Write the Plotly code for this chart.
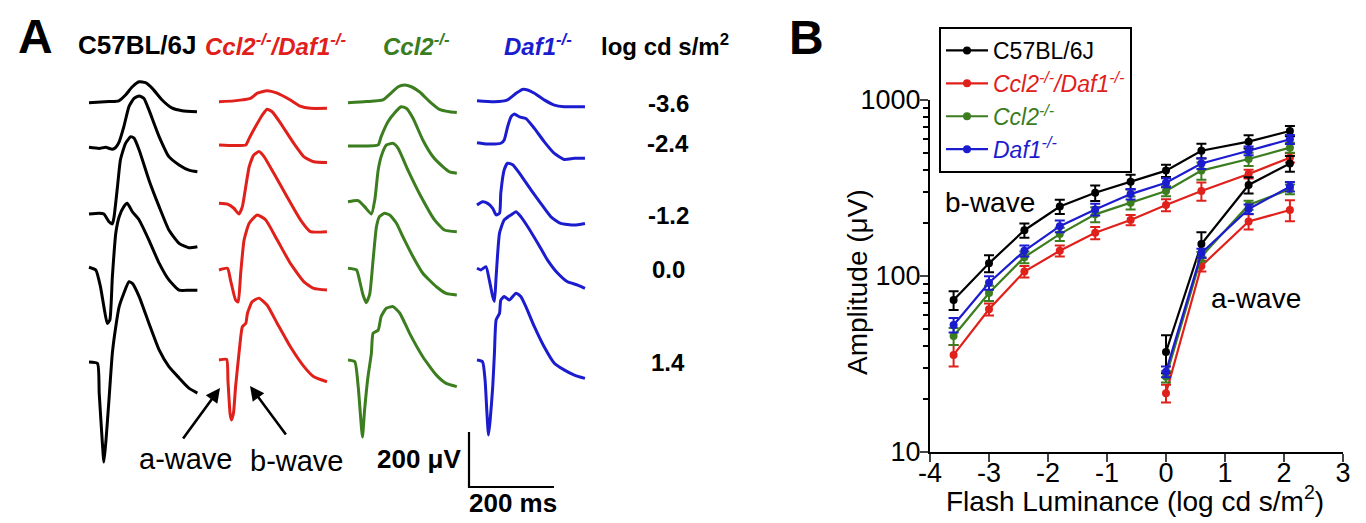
import plotly.graph_objects as go

W, H = 1366, 523
FONT = "Arial, Liberation Sans, sans-serif"
BLACK, RED, GREEN, BLUE = "#000000", "#e0201b", "#3b7d1f", "#1c1ccf"

# ---------------- Panel B data (amplitude, uV) ----------------
lum_b = [-3.6, -3.0, -2.4, -1.8, -1.2, -0.6, 0.0, 0.6, 1.4, 2.1]
lum_a = [0.0, 0.6, 1.4, 2.1]

b_c57 = [73, 118, 182, 248, 297, 343, 397, 515, 580, 667]
b_dko = [35.6, 64.7, 106, 139, 176, 208, 253, 304, 380, 470]
b_ccl2 = [45.6, 80, 128, 173, 224, 261, 304, 397, 462, 536]
b_daf1 = [52.7, 91.6, 139, 192, 239, 292, 339, 436, 515, 598]
b_c57_err = [9, 13, 17, 23, 30, 33, 32, 50, 50, 45]
b_dko_err = [5, 5, 8, 10, 14, 14, 20, 36, 22, 28]
b_ccl2_err = [5, 8, 10, 15, 22, 22, 20, 45, 40, 35]
b_daf1_err = [5, 8, 10, 15, 18, 20, 20, 30, 30, 35]

a_c57 = [37, 152, 329, 436]
a_dko = [21.6, 114, 204, 237]
a_ccl2 = [26.8, 129, 253, 311]
a_daf1 = [28.6, 135, 240, 322]
a_c57_err = [9, 25, 35, 45]
a_dko_err = [2.5, 8, 20, 32]
a_ccl2_err = [2, 8, 15, 20]
a_daf1_err = [2, 8, 15, 20]

# ---------------- Panel A data (ERG traces: time ms, amplitude uV) ----------------
flash_levels = ["-3.6", "-2.4", "-1.2", "0.0", "1.4"]

erg_c57_t = [
    [0, 47, 70, 86, 102, 118, 133, 149, 172, 196, 219, 254],
    [0, 24, 39, 55, 63, 71, 82, 94, 106, 118, 129, 141, 165, 188, 212, 235, 255],
    [0, 24, 35, 47, 55, 59, 67, 74, 86, 98, 106, 118, 141, 165, 188, 212, 235, 255],
    [0, 16, 27, 35, 43, 49, 55, 63, 71, 82, 90, 102, 118, 141, 165, 188, 212, 235, 255],
    [0, 20, 24, 31, 35, 40, 47, 55, 63, 71, 82, 94, 102, 118, 141, 165, 188, 212, 235, 255],
]
erg_c57_uv = [
    [0, 4, 7, 28, 58, 76, 73, 52, 10, -20, -29, -33],
    [0, -4, 0, -7, 0, 20, 75, 148, 178, 187, 178, 136, 39, -34, -64, -83, -89],
    [0, 3, 0, -28, -36, -10, 99, 197, 257, 281, 276, 233, 124, 27, -58, -107, -123, -119],
    [0, -10, -71, -143, -204, -192, -34, 124, 184, 221, 233, 202, 172, 99, 15, -46, -83, -83, -83],
    [0, -5, -113, -284, -364, -284, -138, 33, 128, 201, 250, 292, 286, 238, 141, 44, -17, -58, -95, -113],
]
erg_dko_t = [
    [0, 35, 74, 90, 113, 137, 168, 191, 215, 254],
    [0, 35, 63, 71, 86, 102, 113, 125, 145, 176, 200, 223, 254],
    [0, 20, 35, 47, 55, 63, 71, 82, 94, 106, 129, 160, 192, 215, 254],
    [0, 20, 27, 39, 45, 51, 59, 71, 90, 110, 137, 168, 200, 223, 254],
    [0, 18, 21, 26, 29, 34, 39, 47, 55, 63, 67, 78, 94, 113, 137, 168, 200, 223, 254],
]
erg_dko_uv = [
    [0, 3, 12, 31, 40, 31, 6, -16, -24, -24],
    [0, -2, 0, 24, 67, 109, 130, 121, 79, 6, -43, -61, -64],
    [0, -3, -18, -39, -12, 61, 133, 176, 188, 170, 109, 24, -61, -103, -103],
    [0, 6, -36, -109, -116, -12, 109, 170, 200, 182, 109, 24, -43, -67, -73],
    [0, 2, -73, -194, -218, -194, -97, 24, 121, 133, 170, 212, 225, 200, 133, 48, -24, -61, -79],
]
erg_ccl2_t = [
    [0, 43, 82, 102, 118, 133, 149, 168, 192, 215, 239, 256],
    [0, 43, 71, 78, 94, 110, 125, 137, 153, 176, 200, 223, 239, 256],
    [0, 24, 39, 55, 63, 71, 78, 90, 106, 118, 141, 172, 204, 227, 256],
    [0, 20, 27, 35, 43, 51, 59, 67, 74, 86, 98, 114, 129, 153, 176, 208, 231, 256],
    [0, 16, 24, 29, 34, 39, 47, 55, 59, 71, 78, 90, 106, 122, 145, 176, 208, 231, 256],
]
erg_ccl2_uv = [
    [0, 4, 10, 36, 58, 64, 58, 40, 4, -24, -33, -36],
    [0, 0, 4, 34, 88, 121, 143, 137, 101, 22, -39, -75, -94, -99],
    [0, 4, -18, -45, 6, 115, 164, 206, 212, 194, 115, 18, -67, -103, -109],
    [0, -6, -43, -95, -125, -95, 30, 152, 188, 200, 194, 164, 115, 42, -18, -67, -91, -97],
    [0, -6, -97, -194, -280, -182, -61, 24, 97, 109, 158, 188, 194, 170, 97, 12, -55, -85, -97],
]
erg_daf1_t = [
    [0, 41, 72, 92, 107, 119, 135, 158, 182, 205, 254],
    [0, 25, 56, 64, 72, 80, 88, 100, 115, 135, 158, 182, 205, 229, 254],
    [0, 13, 25, 37, 45, 53, 56, 64, 72, 84, 103, 127, 150, 174, 197, 229, 254],
    [0, 9, 21, 29, 37, 41, 45, 53, 64, 80, 92, 103, 119, 143, 166, 190, 213, 237, 254],
    [0, 13, 19, 23, 27, 31, 37, 41, 45, 53, 56, 64, 76, 92, 103, 115, 135, 158, 182, 205, 229, 254],
]
erg_daf1_uv = [
    [0, -4, 3, 27, 41, 39, 27, 3, -16, -22, -22],
    [0, -5, -2, 10, 58, 94, 104, 94, 88, 52, 4, -39, -61, -57, -57],
    [0, 12, 6, -12, -36, -30, 43, 128, 152, 146, 109, 55, 6, -43, -67, -73, -67],
    [0, -6, 6, -43, -103, -120, -30, 128, 176, 194, 206, 188, 152, 91, 30, -18, -49, -61, -73],
    [0, -6, -73, -182, -273, -218, -97, 24, 146, 170, 218, 231, 218, 243, 231, 194, 121, 48, -12, -36, -55, -67],
]
scale_ms = 200
scale_uv = 200

# ---------------- layout constants (panel A placement, in pixels) ----------------
MS_PER_PX = 200 / 85
UV_PER_PX = 200 / 55
PANEL_A_W = 720
col_x_px = [89, 219, 348, 477]
row_base_px = [
    [102.7, 147.3, 214, 267.3, 362],
    [101.7, 145, 203.3, 270, 360],
    [102.7, 146, 201.7, 268.3, 360],
    [100.7, 142.7, 205, 268.3, 360],
]
scale_corner_px = (469, 487)


def px2ms(px):
    return px * MS_PER_PX


def py2uv(py):
    return (H - py) * UV_PER_PX


fig = go.Figure()

# Panel A traces
strains = [
    (erg_c57_t, erg_c57_uv, BLACK),
    (erg_dko_t, erg_dko_uv, RED),
    (erg_ccl2_t, erg_ccl2_uv, GREEN),
    (erg_daf1_t, erg_daf1_uv, BLUE),
]
for ci, (ts, vs, col) in enumerate(strains):
    x0 = px2ms(col_x_px[ci])
    for ri in range(len(ts)):
        y0 = py2uv(row_base_px[ci][ri])
        fig.add_trace(go.Scatter(
            x=[x0 + t for t in ts[ri]], y=[y0 + v for v in vs[ri]],
            mode="lines", line=dict(color=col, width=3, shape="spline", smoothing=0.5),
            xaxis="x2", yaxis="y2", showlegend=False, hoverinfo="skip"))

cx, cy = px2ms(scale_corner_px[0]), py2uv(scale_corner_px[1])
fig.add_trace(go.Scatter(
    x=[cx, cx, cx + scale_ms], y=[cy + scale_uv, cy, cy],
    mode="lines", line=dict(color="black", width=2.2),
    xaxis="x2", yaxis="y2", showlegend=False, hoverinfo="skip"))

# Panel B traces
def leg(txt, col, italic):
    inner = f"<i>{txt}</i>" if italic else txt
    return f'<span style="color:{col}">{inner}</span>'

series = [
    (b_c57, b_c57_err, a_c57, a_c57_err, BLACK, leg("C57BL/6J", BLACK, False)),
    (b_dko, b_dko_err, a_dko, a_dko_err, RED, leg("Ccl2<sup>-/-</sup>/Daf1<sup>-/-</sup>", RED, True)),
    (b_ccl2, b_ccl2_err, a_ccl2, a_ccl2_err, GREEN, leg("Ccl2<sup>-/-</sup>", GREEN, True)),
    (b_daf1, b_daf1_err, a_daf1, a_daf1_err, BLUE, leg("Daf1<sup>-/-</sup>", BLUE, True)),
]
for bv, be, av, ae, col, name in series:
    fig.add_trace(go.Scatter(
        x=lum_b, y=bv, mode="lines+markers", name=name,
        line=dict(color=col, width=2.2), marker=dict(color=col, size=8),
        error_y=dict(type="data", array=be, color=col, thickness=2, width=5)))
for bv, be, av, ae, col, name in series:
    fig.add_trace(go.Scatter(
        x=lum_a, y=av, mode="lines+markers", showlegend=False,
        line=dict(color=col, width=2.2), marker=dict(color=col, size=8),
        error_y=dict(type="data", array=ae, color=col, thickness=2, width=5)))

minor_vals = [v * m for m in (10, 100) for v in range(2, 10)]

fig.update_layout(
    width=W, height=H,
    margin=dict(l=0, r=0, t=0, b=0, pad=0),
    paper_bgcolor="white", plot_bgcolor="rgba(0,0,0,0)",
    font=dict(family=FONT, color="black"),
    xaxis=dict(
        domain=[930 / W, 1343 / W], range=[-4, 3], tickvals=list(range(-4, 4)),
        ticktext=["-4", "-3", "-2", "-1", "0", "1", "2", "3"],
        ticks="outside", ticklen=8, tickwidth=2, showline=True, linewidth=2, linecolor="black",
        showgrid=False, zeroline=False, tickfont=dict(size=27), automargin=False,
        ticklabelstandoff=-12, anchor="y"),
    yaxis=dict(
        type="log", domain=[1 - 452 / H, 1 - 100 / H], range=[1, 3],
        tickvals=[10, 100, 1000], ticktext=["10", "100", "1000"],
        ticks="outside", ticklen=8, tickwidth=2, showline=True, linewidth=2, linecolor="black",
        minor=dict(tickvals=minor_vals, ticks="outside", ticklen=5, tickwidth=1.5, tickcolor="black"),
        showgrid=False, zeroline=False, tickfont=dict(size=27), automargin=False,
        ticklabelstandoff=-6, anchor="x"),
    xaxis2=dict(domain=[0, PANEL_A_W / W], range=[0, PANEL_A_W * MS_PER_PX], visible=False,
                anchor="y2"),
    yaxis2=dict(domain=[0, 1], range=[0, H * UV_PER_PX], visible=False, anchor="x2"),
    showlegend=True,
    legend=dict(x=939 / W, y=1 - 27 / H, xanchor="left", yanchor="top",
                bordercolor="black", borderwidth=2, bgcolor="white", itemwidth=42,
                font=dict(size=23, family=FONT), tracegroupgap=0),
)


def txt(x, y, s, size, bold=False, color="black", italic=False, angle=0):
    t = s
    if italic:
        t = f"<i>{t}</i>"
    if bold:
        t = f"<b>{t}</b>"
    fig.add_annotation(x=x / W, y=1 - y / H, xref="paper", yref="paper", text=t,
                       showarrow=False, font=dict(size=size, color=color, family=FONT),
                       xanchor="center", yanchor="middle", textangle=angle)


txt(35, 36, "A", 48, bold=True)
txt(806, 37, "B", 48, bold=True)
txt(137, 45, "C57BL/6J", 26, bold=True)
txt(275, 45, "Ccl2<sup>-/-</sup>/Daf1<sup>-/-</sup>", 24, bold=True, italic=True, color=RED)
txt(416, 45, "Ccl2<sup>-/-</sup>", 24, bold=True, italic=True, color=GREEN)
txt(538, 45, "Daf1<sup>-/-</sup>", 24, bold=True, italic=True, color=BLUE)
txt(665, 45, "log cd s/m<sup>2</sup>", 24, bold=True)
row_label_y = [103, 143, 215, 269, 362]
for lab, yy in zip(flash_levels, row_label_y):
    txt(668, yy, lab, 24, bold=True)
txt(186, 459, "a-wave", 29)
txt(297, 461, "b-wave", 29)
txt(419, 459, "200 \u03bcV", 26, bold=True)
txt(513, 503, "200 ms", 26, bold=True)
txt(990, 202, "b-wave", 28)
txt(1256, 298, "a-wave", 28)
txt(1135, 499, "Flash Luminance (log cd s/m<sup>2</sup>)", 28)
txt(857, 282, "Amplitude (\u03bcV)", 28, angle=-90)

# arrows
for (hx, hy, tx, ty) in [(220, 388, 182, 440), (250, 386, 287, 436)]:
    fig.add_annotation(x=hx / W, y=1 - hy / H, xref="paper", yref="paper",
                       ax=tx - hx, ay=ty - hy, axref="pixel", ayref="pixel",
                       text="", showarrow=True, arrowhead=2, arrowsize=1.1,
                       arrowwidth=2.6, arrowcolor="black")

fig.write_html("out.html", config={"displayModeBar": False},
               post_script="document.body.style.margin='0px';")
